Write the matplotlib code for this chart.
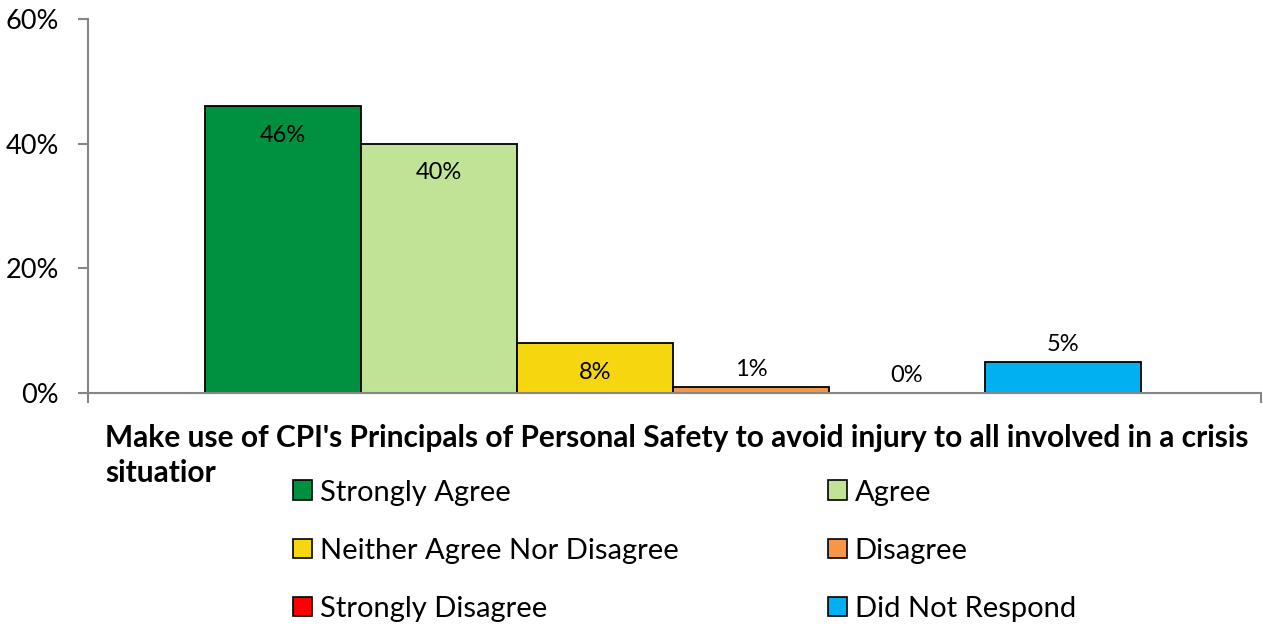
import matplotlib.pyplot as plt
from matplotlib.patches import Patch
from matplotlib.ticker import PercentFormatter

plt.rcParams['font.family'] = ['Lato', 'DejaVu Sans']

# data
categories = ['Strongly Agree', 'Agree', 'Neither Agree Nor Disagree',
              'Disagree', 'Strongly Disagree', 'Did Not Respond']
values = [46, 40, 8, 1, 0, 5]
colors = ['#009140', '#c0e396', '#f5d60f', '#f79646', '#ff0000', '#00b0f0']
xlabel_lines = ["Make use of CPI's Principals of Personal Safety to avoid injury to all involved in a crisis",
                "situatior"]

W, H = 1263, 626
fig = plt.figure(figsize=(W / 100, H / 100), dpi=100)
ax = fig.add_axes([88 / W, 1 - 393 / H, (1261 - 88) / W, (393 - 19) / H])

gap = 117 / 1173
bw = 156 / 1173
xs = [gap + bw * (i + 0.5) for i in range(len(values))]
bars = ax.bar(xs, values, width=bw, color=colors, edgecolor='black', linewidth=1.3)

for x, v in zip(xs, values):
    if v >= 8:
        ax.annotate(f'{v}%', (x, v), xytext=(0, -21), textcoords='offset points',
                    ha='center', va='center', fontsize=17)
    else:
        ax.annotate(f'{v}%', (x, v), xytext=(0, 12.5), textcoords='offset points',
                    ha='center', va='center', fontsize=17)

ax.set_xlim(0, 1)
ax.set_ylim(0, 60)
ax.set_yticks([0, 20, 40, 60])
ax.yaxis.set_major_formatter(PercentFormatter(decimals=0))
ax.set_xticks([0, 1])
ax.set_xticklabels(['', ''])
for s in ['top', 'right']:
    ax.spines[s].set_visible(False)
for s in ['left', 'bottom']:
    ax.spines[s].set_color('#868686')
    ax.spines[s].set_linewidth(1.5)
ax.tick_params(axis='both', color='#868686', width=1.5, length=7, direction='out')
ax.tick_params(axis='y', labelsize=19.5, pad=14)

# axis title, wrapped over two lines as in the original
for i, line in enumerate(xlabel_lines):
    fig.text(105 / W, 1 - (424.5 + 35 * i) / H, line, fontsize=21.5, fontweight='bold',
             ha='left', va='top')

handles = [Patch(facecolor=c, edgecolor='black', linewidth=1.2) for c in colors]
leg_kw = dict(loc='upper left', frameon=False, fontsize=21, borderpad=0, borderaxespad=0,
              handlelength=0.66, handleheight=0.66, handletextpad=0.25, labelspacing=1.1)
fig.legend(handles[0::2], categories[0::2], bbox_to_anchor=(293 / W, 1 - 479.5 / H), **leg_kw)
fig.legend(handles[1::2], categories[1::2], bbox_to_anchor=(828 / W, 1 - 479.5 / H), **leg_kw)

fig.savefig('out.png', dpi=100)
